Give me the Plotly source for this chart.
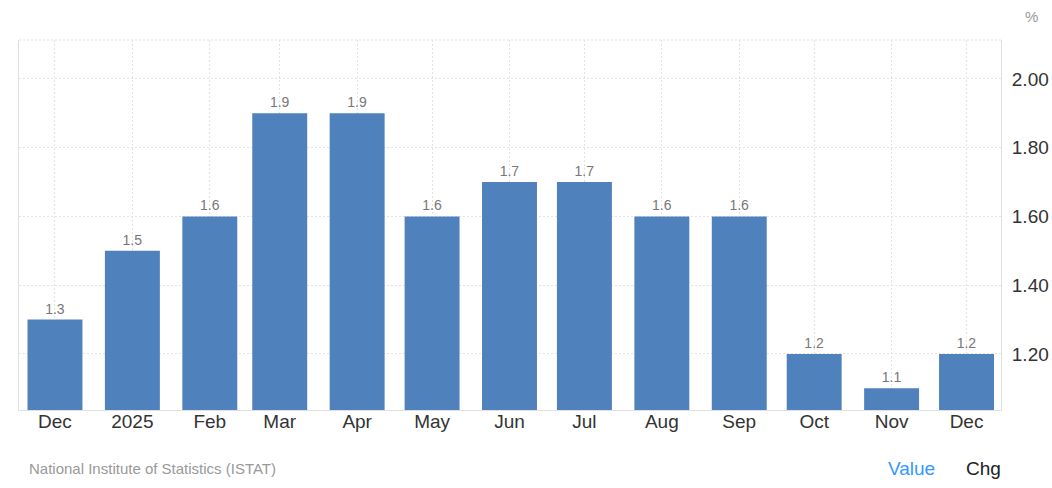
import plotly.graph_objects as go
from datetime import datetime, timedelta

dates = ["2024-12-01", "2025-01-01", "2025-02-01", "2025-03-01", "2025-04-01", "2025-05-01",
         "2025-06-01", "2025-07-01", "2025-08-01", "2025-09-01", "2025-10-01", "2025-11-01", "2025-12-01"]
tick_labels = ["Dec", "2025", "Feb", "Mar", "Apr", "May", "Jun", "Jul", "Aug", "Sep", "Oct", "Nov", "Dec"]
values = [1.3, 1.5, 1.6, 1.9, 1.9, 1.6, 1.7, 1.7, 1.6, 1.6, 1.2, 1.1, 1.2]
y_tick_vals = [1.2, 1.4, 1.6, 1.8, 2.0]
y_tick_text = ["1.20", "1.40", "1.60", "1.80", "2.00"]

FONT = "Liberation Sans, Arial, sans-serif"
DAY_MS = 86400000
GRID_DASH = "2px,2px"

d0 = datetime.fromisoformat(dates[0])
d1 = datetime.fromisoformat(dates[-1])
x_range = [(d0 - timedelta(days=14.4)).isoformat(), (d1 + timedelta(days=13.8)).isoformat()]

fig = go.Figure()
fig.add_trace(go.Bar(
    x=dates, y=values,
    marker=dict(color="#4f81bd", line=dict(width=0)),
    text=[f"{v:.1f}" for v in values],
    textposition="outside",
    textfont=dict(family=FONT, size=14, color="#777777"),
    cliponaxis=False,
    width=22 * DAY_MS,
))

fig.update_layout(
    width=1052, height=488,
    margin=dict(l=19, r=51, t=40, b=78),
    paper_bgcolor="white", plot_bgcolor="white",
    showlegend=False,
    font=dict(family=FONT),
    xaxis=dict(
        type="date", automargin=False,
        tickmode="array", tickvals=dates, ticktext=tick_labels,
        range=x_range,
        showgrid=True, gridcolor="#e3e3e3", griddash=GRID_DASH, gridwidth=1,
        showline=True, linecolor="#e0e0e0", linewidth=1,
        ticks="", ticklabelstandoff=-6,
        tickfont=dict(family=FONT, size=19, color="#333333"),
        zeroline=False,
    ),
    yaxis=dict(
        side="right", automargin=False, range=[1.037, 2.113],
        tickmode="array", tickvals=y_tick_vals, ticktext=y_tick_text,
        showgrid=True, gridcolor="#e3e3e3", griddash=GRID_DASH, gridwidth=1,
        showline=True, linecolor="#e0e0e0", linewidth=1, mirror=True,
        ticks="", ticklabelstandoff=6,
        tickfont=dict(family=FONT, size=19, color="#333333"),
        zeroline=False,
    ),
)

# top dotted border
fig.add_shape(type="line", xref="paper", yref="paper", x0=0, x1=1, y0=1, y1=1,
              line=dict(color="#e3e3e3", width=1, dash=GRID_DASH))

W = 1052 - 19 - 51
fig.add_annotation(text="%", xref="paper", yref="paper", x=(1031-19)/W, y=1.0, yshift=24,
                   xanchor="center", yanchor="middle", showarrow=False,
                   font=dict(family=FONT, size=15, color="#999999"))
fig.add_annotation(text="National Institute of Statistics (ISTAT)", xref="paper", yref="paper",
                   x=(27-19)/W, y=0, yshift=-58, xanchor="left", yanchor="middle", showarrow=False,
                   font=dict(family=FONT, size=15, color="#999999"))
fig.add_annotation(text="Value", xref="paper", yref="paper", x=(911-19)/W, y=0, yshift=-58,
                   xanchor="center", yanchor="middle", showarrow=False,
                   font=dict(family=FONT, size=19, color="#3399ff"))
fig.add_annotation(text="Chg", xref="paper", yref="paper", x=(983-19)/W, y=0, yshift=-58,
                   xanchor="center", yanchor="middle", showarrow=False,
                   font=dict(family=FONT, size=19, color="#222222"))

fig.write_html("out.html", config={"displayModeBar": False},
               post_script="document.body.style.margin='0';document.body.style.overflow='hidden';")
